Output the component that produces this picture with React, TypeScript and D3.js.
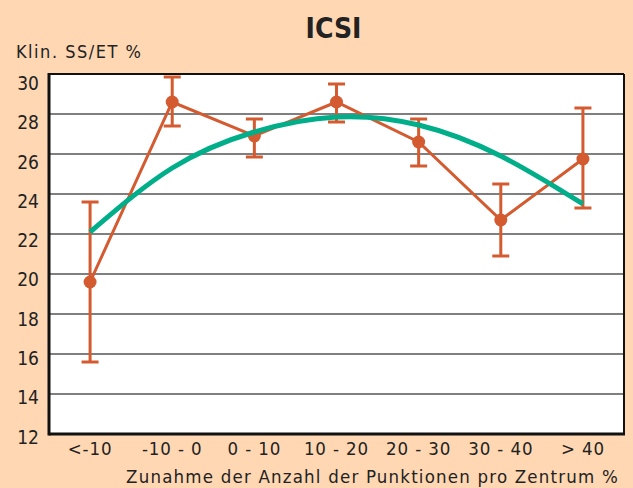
import React from "react";
import * as d3 from "d3";

const categories = ["<-10", "-10 - 0", "0 - 10", "10 - 20", "20 - 30", "30 - 40", "> 40"];
const meanValues = [19.6, 28.6, 26.9, 28.6, 26.6, 22.7, 25.75];
const upperValues = [23.6, 29.85, 27.75, 29.5, 27.75, 24.5, 28.3];
const lowerValues = [15.6, 27.4, 25.85, 27.6, 25.4, 20.9, 23.3];
const trendValues = [22.1, 25.3, 27.1, 27.85, 27.45, 25.9, 23.5];
const yTicks = [12, 14, 16, 18, 20, 22, 24, 26, 28, 30];

const W = 633;
const H = 488;
const FONT = "'DejaVu Sans Condensed', 'DejaVu Sans', sans-serif";
const BG = "#FFD7B3";
const ORANGE = "#D45A30";
const GREEN = "#00AE8A";

export default function App() {
  const left = 49, right = 624, top = 74, bottom = 434;
  const x = d3.scaleBand<string>().domain(categories).range([left, right]).padding(0);
  const y = d3.scaleLinear().domain([12, 30]).range([bottom, top]);
  const yLabel = d3.scaleLinear().domain([12, 30]).range([bottom + 2.5, top + 9]);
  const cx = (i: number) => (x(categories[i]) as number) + x.bandwidth() / 2;

  const meanLine = d3.line<number>().x((_, i) => cx(i)).y((d) => y(d))(meanValues) || "";
  const trendLine = d3
    .line<number>()
    .x((_, i) => cx(i))
    .y((d) => y(d))
    .curve(d3.curveNatural)(trendValues) || "";

  const txt = { fontFamily: FONT, fontStretch: "condensed" as const };

  return (
    <svg
      width={W}
      height={H}
      style={{ position: "absolute", left: 0, top: 0, display: "block" }}
    >
      <rect x={0} y={0} width={W} height={H} fill={BG} />
      <text x={333.5} y={38} textAnchor="middle" {...txt} fontWeight="bold" fontSize={28} fill="#222">
        ICSI
      </text>
      <text x={16} y={58} {...txt} fontSize={18} letterSpacing={1.5} fill="#222">
        Klin. SS/ET %
      </text>
      <rect x={left} y={top} width={right - left} height={bottom - top} fill="#fff" />
      {yTicks.slice(1, -1).map((t) => (
        <line key={t} x1={left} x2={right} y1={y(t)} y2={y(t)} stroke="#555" strokeWidth={1.5} />
      ))}
      {yTicks.map((t) => (
        <text key={t} x={39} y={yLabel(t) + 7} textAnchor="end" {...txt} fontSize={19} fill="#222">
          {t}
        </text>
      ))}
      {categories.map((c, i) => (
        <text key={c} x={cx(i)} y={455} textAnchor="middle" {...txt} fontSize={18.5} letterSpacing={0.9} fill="#222">
          {c}
        </text>
      ))}
      <text x={619} y={483} textAnchor="end" {...txt} fontSize={18.5} letterSpacing={1.2} fill="#222">
        Zunahme der Anzahl der Punktionen pro Zentrum %
      </text>
      {/* error bars */}
      {categories.map((c, i) => (
        <g key={c} stroke={ORANGE} strokeWidth={3}>
          <line x1={cx(i)} x2={cx(i)} y1={y(upperValues[i])} y2={y(lowerValues[i])} />
          <line x1={cx(i) - 8.5} x2={cx(i) + 8.5} y1={y(upperValues[i])} y2={y(upperValues[i])} />
          <line x1={cx(i) - 8.5} x2={cx(i) + 8.5} y1={y(lowerValues[i])} y2={y(lowerValues[i])} />
        </g>
      ))}
      <path d={meanLine} fill="none" stroke={ORANGE} strokeWidth={3} />
      {meanValues.map((v, i) => (
        <circle key={i} cx={cx(i)} cy={y(v)} r={6.5} fill={ORANGE} />
      ))}
      <path d={trendLine} fill="none" stroke={GREEN} strokeWidth={5} />
      {/* frame */}
      <line x1={left} x2={right} y1={top} y2={top} stroke="#111" strokeWidth={2} />
      <line x1={right} x2={right} y1={top} y2={bottom} stroke="#111" strokeWidth={2} />
      <line x1={left} x2={left} y1={top - 1} y2={bottom + 1.5} stroke="#111" strokeWidth={3} />
      <line x1={left} x2={right + 1} y1={bottom} y2={bottom} stroke="#111" strokeWidth={3} />
    </svg>
  );
}
